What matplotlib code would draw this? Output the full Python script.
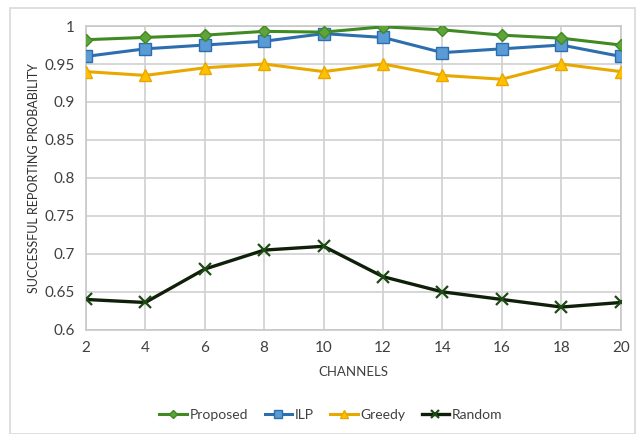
import matplotlib
matplotlib.use("Agg")
import matplotlib.pyplot as plt
from matplotlib.patches import Rectangle

plt.rcParams['font.family'] = ['Lato', 'DejaVu Sans']

channels = [2, 4, 6, 8, 10, 12, 14, 16, 18, 20]
proposed = [0.982, 0.985, 0.988, 0.993, 0.992, 0.999, 0.995, 0.988, 0.984, 0.975]
ilp = [0.96, 0.97, 0.975, 0.98, 0.99, 0.985, 0.965, 0.97, 0.975, 0.96]
greedy = [0.94, 0.935, 0.945, 0.95, 0.94, 0.95, 0.935, 0.93, 0.95, 0.94]
random_ = [0.64, 0.636, 0.68, 0.705, 0.71, 0.67, 0.65, 0.64, 0.63, 0.636]
yticks = [0.6, 0.65, 0.7, 0.75, 0.8, 0.85, 0.9, 0.95, 1]
ytick_labels = ['0.6', '0.65', '0.7', '0.75', '0.8', '0.85', '0.9', '0.95', '1']

fig = plt.figure(figsize=(6.36, 4.34), dpi=100)
fig.patches.append(Rectangle((10/636, 0.0), 1 - 10/636 - 0.001, 1 - 8/434, transform=fig.transFigure,
                             fill=False, edgecolor='#D9D9D9', linewidth=1.2))
ax = fig.add_axes([0.135, 0.240, 0.841, 0.700])

ax.plot(channels, proposed, color='#3F8A22', lw=2.2, marker='D', ms=6,
        mfc='#5FA33A', mec='#3F8A22', label='Proposed', zorder=4)
ax.plot(channels, ilp, color='#2C6EAE', lw=2.2, marker='s', ms=9,
        mfc='#5B9BD5', mec='#2C6EAE', label='ILP', zorder=3)
ax.plot(channels, greedy, color='#E8A800', lw=2.2, marker='^', ms=9,
        mfc='#FFC000', mec='#E8A800', label='Greedy', zorder=3)
ax.plot(channels, random_, color='#0F1F0A', lw=2.4, marker='x', ms=8, mew=1.6,
        mec='#1E4A14', label='Random', zorder=3)

ax.set_xlim(2, 20)
ax.set_ylim(0.6, 1.0)
ax.set_xticks(channels)
ax.set_xticklabels([str(c) for c in channels])
ax.set_yticks(yticks)
ax.set_yticklabels(ytick_labels)
ax.grid(True, color='#D0D0D0', lw=1.2)
ax.set_axisbelow(True)
for s in ax.spines.values():
    s.set_color('#C8C8C8')
    s.set_linewidth(1.2)
ax.tick_params(length=0, labelsize=11, colors='#404040', pad=8)
ax.set_xlabel('CHANNELS', fontsize=9.5, color='#404040', labelpad=8)
ax.set_ylabel('SUCCESSFUL REPORTING PROBABILITY', fontsize=9, color='#303030', labelpad=3)

fig.legend(loc='center', bbox_to_anchor=(0.52, 0.044), ncol=4, frameon=False,
           fontsize=10, handlelength=2.0, columnspacing=1.2, handletextpad=0.15,
           markerscale=0.65, labelcolor='#404040')

fig.savefig('out.png', dpi=100)
